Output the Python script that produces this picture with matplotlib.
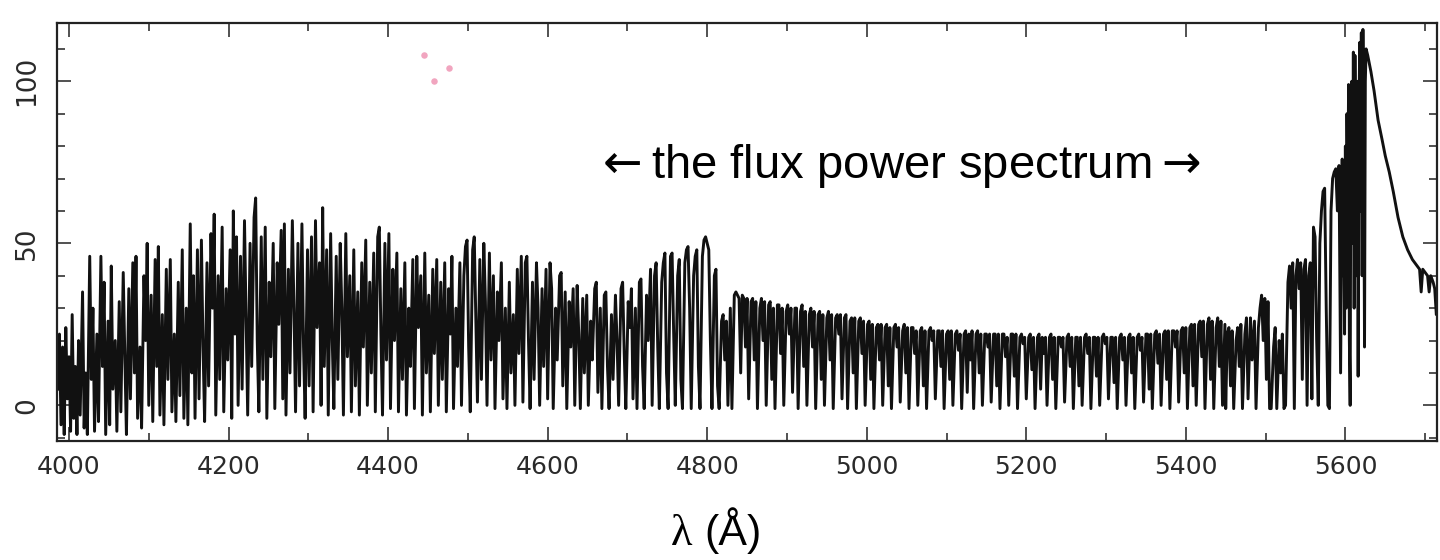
import matplotlib
matplotlib.use("Agg")
import matplotlib.pyplot as plt
from matplotlib.ticker import MultipleLocator

# Spectrum: (wavelength [A], flux) pairs, in pieces
forest_4000 = [
    (3986, 5), (3988, 22), (3990, -6), (3992, 18), (3994, -9), (3996, 24), (3998, 2), (4000, 15),
    (4002, -8), (4004, 28), (4006, -4), (4008, 12), (4010, -9), (4012, 20), (4014, -3), (4017, 35),
    (4019, -7), (4021, 10), (4023, -9), (4026, 46), (4028, 8), (4030, 30), (4032, -8), (4035, 22),
    (4037, -5), (4040, 46), (4042, 12), (4044, 38), (4046, -9), (4049, 26), (4051, -6), (4053, 43),
    (4055, 5), (4058, 20), (4060, -8), (4063, 32), (4065, -2), (4068, 41), (4070, 15), (4072, -9),
    (4075, 36), (4077, 2), (4080, 44), (4082, 10), (4084, 46), (4086, -4), (4089, 18), (4091, -7),
    (4094, 40), (4096, 20), (4098, 50), (4100, 0), (4103, 34), (4105, -5), (4108, 45), (4110, 12),
    (4112, 49), (4114, -3), (4117, 28), (4119, -6), (4122, 42), (4124, 8), (4127, 45), (4129, -2),
    (4132, 22), (4134, -5), (4137, 38), (4139, 3), (4142, 48), (4144, -4), (4147, 30), (4149, -6),
]

forest_4150 = [
    (4152, 56), (4154, 10), (4156, 40), (4158, -4), (4161, 48), (4163, 2), (4166, 51), (4168, 18),
    (4170, -5), (4173, 44), (4175, 6), (4178, 53), (4180, 30), (4182, 59), (4184, -3), (4187, 40),
    (4189, 8), (4192, 55), (4194, -2), (4197, 36), (4199, 14), (4202, 48), (4204, -4), (4206, 60),
    (4208, 22), (4210, 52), (4212, 0), (4215, 46), (4217, 5), (4220, 57), (4222, 28), (4224, -3),
    (4227, 50), (4229, 12), (4232, 58), (4234, 64), (4236, 20), (4238, -2), (4241, 52), (4243, 8),
    (4246, 55), (4248, -4), (4251, 38), (4253, 15), (4256, 50), (4258, -1), (4261, 44), (4263, 25),
    (4266, 54), (4268, 2), (4270, 56), (4272, -3), (4275, 42), (4277, 10), (4280, 57), (4282, 30),
    (4284, -2), (4287, 50), (4289, 6), (4292, 56), (4294, 18), (4296, -4), (4299, 48),
]

forest_4300 = [
    (4301, 6), (4304, 52), (4306, -2), (4309, 57), (4311, 24), (4314, 44), (4316, 0), (4318, 61),
    (4320, 12), (4323, 48), (4325, -3), (4328, 53), (4330, 20), (4332, -1), (4335, 46), (4337, 8),
    (4340, 50), (4342, 30), (4344, -3), (4347, 53), (4349, 15), (4352, 40), (4354, -2), (4357, 48),
    (4359, 6), (4362, 35), (4364, -3), (4367, 44), (4369, 18), (4372, 51), (4374, 0), (4377, 38),
    (4379, 10), (4382, 47), (4384, -2), (4387, 52), (4389, 55), (4391, 22), (4393, -3), (4396, 50),
    (4398, 14), (4401, 53), (4403, -1), (4406, 42), (4408, 20), (4411, 47), (4413, -2), (4416, 36),
    (4418, 8), (4421, 44), (4423, -3), (4426, 30), (4428, 12), (4431, 45), (4433, -1), (4436, 46),
    (4438, 24), (4441, 40), (4443, -3), (4446, 47), (4448, 10),
]

forest_4450 = [
    (4451, 34), (4453, -2), (4456, 42), (4458, 16), (4461, 45), (4463, 0), (4466, 38), (4468, 8),
    (4471, 44), (4473, -2), (4476, 36), (4478, 22), (4480, 46), (4482, -1), (4485, 30), (4487, 12),
    (4490, 44), (4492, 0), (4495, 40), (4497, 49), (4499, 51), (4501, 18), (4503, -2), (4506, 48),
    (4508, 52), (4510, 26), (4512, 1), (4515, 45), (4517, 8), (4520, 50), (4522, 32), (4524, 0),
    (4527, 47), (4529, 14), (4532, 40), (4534, -1), (4537, 35), (4539, 20), (4542, 44), (4544, 2),
    (4547, 30), (4549, -1), (4552, 38), (4554, 10), (4557, 28), (4559, 0), (4562, 42), (4564, 16),
    (4567, 46), (4569, 1), (4572, 44), (4574, 46), (4576, 20), (4578, -1), (4581, 38), (4583, 8),
    (4586, 44), (4588, 30), (4590, 0), (4593, 36), (4595, 12), (4598, 42),
]

forest_4600 = [
    (4600, 2), (4603, 44), (4605, 36), (4607, -1), (4610, 30), (4612, 14), (4615, 40), (4617, 41),
    (4619, 6), (4622, 35), (4624, -1), (4627, 32), (4629, 18), (4632, 36), (4634, 0), (4637, 37),
    (4639, 22), (4641, -1), (4644, 33), (4646, 10), (4649, 34), (4651, 0), (4654, 26), (4656, 14),
    (4659, 36), (4661, 38), (4663, 4), (4666, 30), (4668, -1), (4671, 34), (4673, 35), (4675, 12),
    (4677, -1), (4680, 28), (4682, 8), (4685, 34), (4687, 20), (4689, 0), (4692, 36), (4694, 38),
    (4696, 16), (4698, -1), (4701, 32), (4703, 24), (4705, 36), (4707, 2), (4710, 30), (4712, -1),
    (4715, 38), (4717, 39), (4719, 12), (4721, -1), (4724, 34), (4726, 20), (4729, 42), (4731, 0),
    (4734, 40), (4736, 44), (4738, 18), (4740, -1), (4743, 38), (4745, 44), (4747, 47), (4749, 10),
    (4751, -1), (4754, 46), (4756, 47), (4758, 22),
]

forest_4760 = [
    (4760, 0), (4763, 40), (4765, 45), (4767, 8), (4769, -1), (4772, 44), (4774, 48), (4776, 49),
    (4778, 30), (4780, -1), (4783, 40), (4785, 46), (4787, 48), (4789, 12), (4791, -1), (4794, 46),
    (4796, 51), (4798, 52), (4800, 50), (4802, 48), (4804, 20), (4806, -1), (4809, 40), (4811, 42),
    (4813, 6), (4815, -1), (4818, 26), (4820, 28), (4822, 14), (4824, 26), (4826, 0), (4829, 30),
    (4831, -1), (4834, 34), (4836, 35), (4838, 34), (4840, 33), (4842, 10), (4844, 34), (4846, 33),
    (4848, 18), (4850, 33),
]

forest_4850 = [
    (4852, 2), (4855, 32), (4857, 33), (4859, 14), (4861, 32), (4863, -1), (4866, 30), (4868, 33),
    (4870, 20), (4872, 32), (4874, 0), (4877, 31), (4879, 32), (4881, 8), (4883, 30), (4885, -1),
    (4888, 31), (4890, 31), (4892, 16), (4894, 30), (4896, 0), (4899, 29), (4901, 31), (4903, 22),
    (4905, 30), (4907, 4), (4910, 30), (4912, 30), (4914, -1), (4917, 29), (4919, 31), (4921, 12),
    (4923, 29), (4925, 0), (4928, 28), (4930, 30), (4932, 18), (4934, 29), (4936, -1), (4939, 28),
    (4941, 29), (4943, 8), (4945, 28), (4947, 0), (4950, 27), (4952, 29), (4954, 14), (4956, 28),
    (4958, -1), (4961, 27), (4963, 28), (4965, 22), (4967, 28), (4969, 2), (4972, 27), (4974, 28),
    (4976, -1), (4979, 26), (4981, 27), (4983, 10), (4985, 27), (4987, -1), (4990, 26), (4992, 27),
    (4994, 16), (4996, 26), (4998, 0),
]

forest_5000 = [
    (5001, 25), (5003, 26), (5005, 8), (5007, 25), (5009, -1), (5012, 24), (5014, 25), (5016, 14),
    (5018, 25), (5020, 0), (5023, 24), (5025, 25), (5027, 6), (5029, 24), (5031, -1), (5034, 24),
    (5036, 25), (5038, 18), (5040, 24), (5042, 1), (5045, 23), (5047, 25), (5049, 10), (5051, 24),
    (5053, -1), (5056, 24), (5058, 24), (5060, 16), (5062, 23), (5064, 0), (5067, 23), (5069, 24),
    (5071, 6), (5073, 23), (5075, -1), (5078, 23), (5080, 24), (5082, 20), (5084, 23), (5086, 2),
    (5089, 23), (5091, 23), (5093, 12), (5095, 23), (5097, -1), (5100, 22), (5102, 23), (5104, 8),
    (5106, 23), (5108, 0), (5111, 22), (5113, 23), (5115, 17), (5117, 22), (5119, -1), (5122, 22),
    (5124, 23), (5126, 4), (5128, 22), (5130, 14), (5132, 23), (5134, -1), (5137, 22), (5139, 23),
    (5141, 10), (5143, 22), (5145, 0), (5148, 22), (5150, 22), (5152, 18), (5154, 22), (5156, 1),
    (5159, 22), (5161, 22), (5163, 6), (5165, 22), (5167, -1), (5170, 22), (5172, 22), (5174, 15),
    (5176, 21), (5178, 0), (5181, 22), (5183, 22), (5185, 9), (5187, 22), (5189, -1), (5192, 21),
    (5194, 22), (5196, 19), (5198, 21), (5200, 2),
]

forest_5200 = [
    (5203, 21), (5205, 22), (5207, 11), (5209, 21), (5211, -1), (5214, 21), (5216, 22), (5218, 5),
    (5220, 21), (5222, 16), (5224, 21), (5226, 0), (5229, 21), (5231, 22), (5233, 8), (5235, 21),
    (5237, -1), (5240, 21), (5242, 21), (5244, 18), (5246, 21), (5248, 1), (5251, 21), (5253, 22),
    (5255, 12), (5257, 21), (5259, -1), (5262, 21), (5264, 21), (5266, 6), (5268, 21), (5270, 0),
    (5273, 21), (5275, 22), (5277, 16), (5279, 21), (5281, -1), (5284, 21), (5286, 21), (5288, 9),
    (5290, 21), (5292, 0), (5295, 21), (5297, 22), (5299, 19), (5301, 21), (5303, 2), (5306, 21),
    (5308, 21), (5310, 7), (5312, 21), (5314, -1), (5317, 21), (5319, 22), (5321, 14), (5323, 21),
    (5325, 0), (5328, 21), (5330, 22), (5332, 10), (5334, 21), (5336, -1), (5339, 21), (5341, 22),
    (5343, 17), (5345, 21), (5347, 1), (5350, 22), (5352, 22), (5354, 5), (5356, 22), (5358, -1),
    (5361, 22), (5363, 23), (5365, 13), (5367, 22), (5369, 0), (5372, 22), (5374, 23), (5376, 8),
    (5378, 23), (5380, -1), (5383, 23), (5385, 23), (5387, 18), (5389, 23), (5391, 1), (5394, 23),
    (5396, 24), (5398, 10), (5400, 24), (5402, -1), (5405, 24), (5407, 25), (5409, 6), (5411, 25),
    (5413, 0), (5416, 25), (5418, 26), (5420, 15), (5422, 26), (5424, -1), (5427, 25), (5429, 27),
    (5431, 8), (5433, 26), (5435, -1), (5438, 24), (5440, 27), (5442, 12), (5444, 26), (5446, 0),
    (5449, 25),
]

# rise into the Lyman alpha emission line
lya_rise = [
    (5450, -1), (5452, 22), (5454, 24), (5456, 6), (5458, 23), (5460, -1), (5463, 20), (5465, 24),
    (5467, 12), (5469, 25), (5471, -1), (5474, 22), (5476, 27), (5478, 2), (5481, 27), (5483, 14),
    (5486, 26), (5488, -1), (5491, 24), (5493, 30), (5495, 34), (5497, 20), (5499, 33), (5501, 8),
    (5503, 32), (5505, -1), (5507, -1), (5510, 18), (5512, 24), (5514, -1), (5517, 20), (5519, 10),
    (5521, 22), (5523, -1), (5525, 0), (5528, 38), (5530, 43), (5532, 30), (5534, 44), (5536, -1),
    (5538, 40), (5540, 45), (5542, 36), (5544, 44), (5546, 8), (5548, 42), (5550, 45), (5552, 0),
    (5554, 40), (5556, 44), (5558, 2), (5560, 55), (5562, 52), (5564, 20), (5566, 0), (5568, 50),
    (5570, 60), (5572, 66), (5574, 67), (5576, 30), (5578, 0), (5580, -1), (5582, 60), (5584, 70),
    (5586, 72), (5588, 73), (5590, 60), (5592, 74), (5594, 10), (5596, 76), (5597, 40), (5598, 74),
    (5599, 22), (5600, 80), (5601, 30), (5602, 90), (5603, 60), (5604, 99), (5605, 20), (5606, 0),
    (5607, 95), (5608, 100), (5609, 50), (5610, 109), (5611, 30), (5612, 108), (5613, 70), (5614, 40),
    (5615, 100), (5616, 9), (5617, 90), (5618, 112), (5619, 60), (5620, 115), (5621, 40), (5622, 116),
    (5623, 80), (5624, 18), (5625, 100), (5626, 110),
]

# red wing, mostly unabsorbed
lya_wing = [
    (5628, 108), (5632, 103), (5636, 97), (5641, 88), (5646, 82), (5650, 77), (5655, 72),
    (5660, 66), (5666, 58), (5672, 52), (5678, 48), (5684, 45), (5690, 43), (5693, 42),
    (5695, 35), (5697, 42), (5700, 41), (5703, 40), (5705, 35), (5707, 40), (5710, 38),
    (5712, 36), (5714, 28), (5716, 30),
]

# pink specks on the scan
specks_wl = [4445, 4457, 4476]
specks_flux = [108, 100, 104]

xticks = [4000, 4200, 4400, 4600, 4800, 5000, 5200, 5400, 5600]
yticks = [0, 50, 100]

spectrum = (forest_4000 + forest_4150 + forest_4300 + forest_4450 + forest_4600
            + forest_4760 + forest_4850 + forest_5000 + forest_5200 + lya_rise + lya_wing)
wl = [p[0] for p in spectrum]
flux = [p[1] for p in spectrum]

plt.rcParams["mathtext.fontset"] = "dejavusans"

fig = plt.figure(figsize=(14.4, 5.6), dpi=100)
ax = fig.add_axes([0.0396, 0.2125, 0.9584, 0.7465])

ax.plot(wl, flux, color="#111111", lw=2.1)
ax.scatter(specks_wl, specks_flux, s=22, color="#ee8fb0", alpha=0.8, linewidths=0)

ax.set_xlim(3985, 5715)
ax.set_ylim(-11, 118)
ax.set_xticks(xticks)
ax.set_yticks(yticks)
ax.xaxis.set_minor_locator(MultipleLocator(100))
ax.yaxis.set_minor_locator(MultipleLocator(10))
ax.tick_params(which="both", direction="in", top=True, right=True,
               color="#333333", width=1.2, labelsize=18, labelcolor="#2a2a2a")
ax.tick_params(axis="y", labelsize=19)
ax.tick_params(which="major", length=10)
ax.tick_params(which="minor", length=6)
ax.tick_params(axis="x", pad=10)
ax.tick_params(axis="y", pad=12)
plt.setp(ax.get_yticklabels(), rotation=90, va="center")
for s in ax.spines.values():
    s.set_linewidth(1.6)
    s.set_color("#222222")

fig.text(0.623, 0.703, r"$\leftarrow$the flux power spectrum$\rightarrow$", fontsize=34,
         family=["Liberation Sans", "DejaVu Sans"], ha="center", va="center")
fig.text(0.481, 0.026, "\u03bb", fontsize=32, family=["Liberation Serif", "DejaVu Serif"],
         ha="right", va="baseline")
fig.text(0.489, 0.026, "(\u00c5)", fontsize=31, family=["Liberation Sans", "DejaVu Sans"],
         ha="left", va="baseline")

fig.savefig("out.png", dpi=100, facecolor="white")
